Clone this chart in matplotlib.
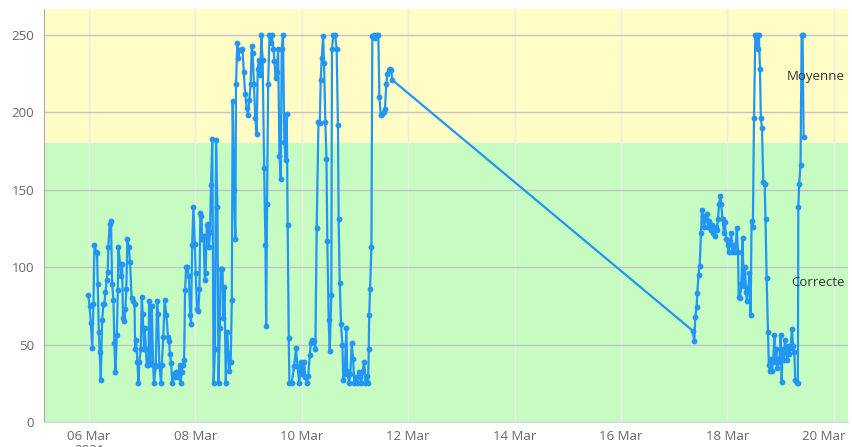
import matplotlib
matplotlib.use("Agg")
import matplotlib.pyplot as plt
import matplotlib.dates as mdates
import matplotlib.transforms as mtransforms
import numpy as np

plt.rcParams["font.family"] = ["Open Sans", "DejaVu Sans"]

# Readings: hours elapsed since 2021-03-06 00:00, and the measured level
start = "2021-03-06T00:00"

hours_a = [
    -0.3, 0.2, 0.8, 1.4, 2.0, 2.4, 3.2, 3.6, 3.9, 4.4,
    4.8, 5.3, 5.9, 6.5, 6.9, 7.4, 8.0, 8.4, 8.7, 9.3,
    9.9, 10.4, 11.0, 11.4, 11.9, 12.5, 13.0, 13.2, 14.0, 14.4,
    14.9, 15.3, 15.9, 16.4, 16.8, 17.3, 17.9, 18.5, 19.2, 19.7,
    20.5, 20.8, 21.2, 21.8, 22.3, 22.7, 23.3, 23.8, 24.2, 24.8,
    25.1, 25.6, 26.0, 26.8, 27.1, 27.7, 28.3, 28.9, 29.3, 30.1,
    30.7, 31.1, 31.7, 32.5, 32.8, 33.5, 34.1, 34.9, 35.6, 36.1,
    36.5, 37.0, 37.6, 38.0, 38.6, 39.2, 39.8, 40.3, 40.9, 41.3,
    41.8, 42.3, 42.9, 43.3, 43.8, 44.4, 45.0, 45.6, 46.0, 46.5,
    47.1, 47.7, 48.1, 48.7, 49.3, 49.8, 50.2, 50.7, 51.1, 51.7,
    52.2, 52.6, 53.1, 53.5, 54.1, 54.6, 55.0, 55.6, 56.2, 56.8,
    57.3, 57.9, 58.4, 59.0, 59.4, 60.2, 60.6, 61.1, 61.7, 62.3,
    62.9, 63.3, 63.9, 64.4, 64.8, 65.4, 66.0, 66.3, 66.9, 67.4,
    67.8, 68.4, 69.2, 69.8, 70.4, 71.1, 71.7, 72.3, 72.9, 73.4,
    73.8, 74.4, 75.0, 75.6, 76.1, 76.7, 77.3, 77.7, 78.3, 79.0,
    79.6, 79.9, 80.3, 80.8, 81.4, 82.0, 82.4, 83.2, 83.6, 84.2,
    84.7, 85.3, 85.9, 86.5, 86.9, 87.5, 88.1, 88.7, 89.2, 89.6,
    90.1, 90.4,
]
level_a = [
    82, 75, 64, 48, 76, 114, 110, 109, 89, 58,
    45, 27, 66, 76, 76, 84, 92, 97, 113, 128,
    130, 89, 79, 51, 32, 56, 85, 113, 102, 94,
    102, 67, 65, 73, 86, 118, 113, 103, 80, 78,
    76, 47, 53, 39, 25, 39, 47, 81, 70, 47,
    61, 47, 37, 37, 78, 39, 75, 37, 25, 36,
    78, 70, 37, 25, 37, 55, 79, 69, 55, 52,
    44, 38, 25, 31, 29, 32, 32, 29, 37, 25,
    32, 37, 40, 85, 100, 100, 94, 69, 63, 114,
    139, 115, 96, 73, 72, 86, 135, 133, 118, 120,
    92, 96, 127, 128, 113, 123, 153, 183, 25, 47,
    182, 139, 25, 61, 99, 99, 67, 87, 25, 58,
    44, 33, 39, 79, 207, 150, 118, 218, 245, 235,
    240, 240, 241, 226, 212, 203, 198, 208, 218, 243,
    238, 218, 196, 186, 228, 234, 224, 250, 234, 164,
    114, 62, 141, 218, 250, 245, 250, 241, 233, 222,
    226, 241, 172, 157, 241, 250, 181, 169, 199, 127,
    54, 25,
]

hours_b = [
    91.4, 92.5, 93.4, 94.0, 94.9, 95.5, 96.2, 97.0, 97.6, 98.3,
    98.9, 99.6, 100.0, 100.7, 101.5, 102.1, 102.7, 103.5, 104.1, 104.5,
    105.0, 105.6, 106.0, 106.6, 107.1, 107.5, 108.1, 108.6, 109.3, 109.6,
    110.2, 111.0, 111.7, 112.3, 112.6, 113.1, 113.7, 114.3, 114.7, 115.3,
    116.1, 116.5, 117.3, 117.9, 118.5, 119.1, 119.7, 120.3, 121.0, 121.7,
    122.2, 122.8, 123.5, 124.1, 124.7, 125.3, 125.9, 126.2, 126.4, 126.8,
    127.4, 127.8, 128.4, 129.2, 129.8, 130.5, 131.0, 131.6, 132.2, 132.9,
    133.5, 134.1, 134.6, 135.2, 135.8, 136.4, 136.7,
]
level_b = [
    25, 36, 48, 36, 25, 39, 31, 39, 29, 25,
    30, 43, 51, 53, 52, 47, 125, 194, 193, 221,
    235, 249, 232, 194, 170, 117, 66, 46, 82, 241,
    250, 250, 241, 192, 131, 90, 63, 50, 27, 31,
    61, 33, 25, 31, 51, 41, 25, 29, 25, 32,
    29, 25, 33, 39, 25, 30, 25, 47, 69, 86,
    113, 249, 250, 248, 250, 250, 210, 198, 199, 200,
    202, 218, 225, 227, 228, 227, 221,
]

hours_c = [
    272.3, 273.1, 273.5, 274.1, 274.4, 275.0, 275.5, 276.1, 276.5, 277.1,
    277.4, 278.2, 278.6, 279.2, 279.8, 280.4, 281.0, 281.6, 282.2, 282.8,
    283.3, 283.7, 284.3, 284.8, 285.2, 285.8, 286.4, 286.9, 287.5, 288.1,
    288.6, 289.2, 289.8, 290.2, 291.0, 291.6, 292.2, 292.8, 293.1, 293.7,
    294.3, 294.9, 295.3, 295.9, 296.4, 296.8, 297.4, 297.9, 298.5, 298.9,
    299.5, 300.0, 300.6, 301.2, 301.6, 302.2, 302.7, 303.1, 303.6, 304.2,
    304.8, 305.2, 305.7, 306.3, 306.7, 307.2, 307.7, 308.1, 308.7, 309.2,
    309.6, 310.1, 310.5, 311.0, 311.4, 312.0, 312.5, 312.9, 313.5, 314.0,
    314.4, 315.0, 315.5, 315.9, 316.5, 317.1, 317.7, 318.2, 318.6, 319.2,
    319.8, 320.0, 320.4, 321.0, 321.5, 321.9, 322.4,
]
level_c = [
    59, 52, 68, 74, 83, 95, 101, 122, 137, 133,
    126, 131, 134, 126, 130, 124, 127, 122, 120, 126,
    124, 131, 141, 146, 141, 131, 122, 129, 118, 114,
    110, 117, 122, 110, 114, 110, 125, 110, 81, 80,
    89, 119, 88, 100, 84, 78, 86, 96, 69, 130,
    126, 196, 250, 250, 241, 250, 228, 196, 190, 155,
    154, 131, 93, 58, 37, 33, 41, 33, 41, 56,
    39, 47, 35, 41, 39, 56, 26, 47, 40, 53,
    47, 40, 49, 44, 48, 60, 49, 45, 27, 25,
    25, 139, 154, 166, 250, 250, 184,
]

# Quality bands (lower edge, upper edge, label)
band_edges = [0, 180, 266.7]
band_names = ["Correcte", "Moyenne"]
band_colors = ["#c6fbc1", "#fffcc6"]

y_ticks = [0, 50, 100, 150, 200, 250]
x_tick_dates = ["2021-03-06", "2021-03-08", "2021-03-10", "2021-03-12",
                "2021-03-14", "2021-03-16", "2021-03-18", "2021-03-20"]
x_tick_labels = ["06 Mar\n2021", "08 Mar", "10 Mar", "12 Mar",
                 "14 Mar", "16 Mar", "18 Mar", "20 Mar"]
x_limits = ["2021-03-05T03:40", "2021-03-20T06:25"]

hours = np.array(hours_a + hours_b + hours_c)
level = np.array(level_a + level_b + level_c)
times = np.datetime64(start) + np.round(hours * 60).astype("timedelta64[m]")
t_num = mdates.date2num(times)

fig = plt.figure(figsize=(8.53, 4.47), dpi=100)
ax = fig.add_axes([44 / 853, 25 / 447, 804 / 853, 413 / 447])

for lo, hi, col in zip(band_edges[:-1], band_edges[1:], band_colors):
    ax.axhspan(lo, hi, color=col, zorder=0.2, lw=0)

ax.set_ylim(band_edges[0], band_edges[-1])
ax.set_xlim(mdates.date2num(np.array(x_limits, dtype="datetime64[m]")))

ax.set_yticks(y_ticks)
ax.set_xticks(mdates.date2num(np.array(x_tick_dates, dtype="datetime64[D]")))
ax.set_xticklabels(x_tick_labels, linespacing=1.05)

ax.set_axisbelow(True)
ax.yaxis.grid(True, color="#c4c4c4", lw=1.0, zorder=0.5)
ax.xaxis.grid(True, color="#ececec", lw=1.0, zorder=0.5)

ax.tick_params(axis="y", length=0, pad=7, labelsize=9.5, labelcolor="#666666")
ax.tick_params(axis="x", length=0, pad=6, labelsize=9.5, labelcolor="#666666")
ax.set_yticks([0], minor=True)
ax.tick_params(axis="y", which="minor", length=6, color="#aaaaaa", width=1)

for side in ("top", "right"):
    ax.spines[side].set_visible(False)
ax.spines["left"].set_color("#aaaaaa")
ax.spines["bottom"].set_color("#d8d8d8")

# keep the last date label inside the figure
last = ax.get_xticklabels()[-1]
last.set_transform(last.get_transform()
                   + mtransforms.ScaledTranslation(-10 / 100, 0, fig.dpi_scale_trans))

ax.plot(t_num, level, color="#2196f3", lw=1.6, marker="o", ms=4.2,
        markeredgewidth=0, zorder=3, clip_on=False)

blend = mtransforms.blended_transform_factory(ax.transAxes, ax.transData)
for lo, hi, name in zip(band_edges[:-1], band_edges[1:], band_names):
    ax.text(0.9965, (lo + hi) / 2, name, transform=blend, ha="right",
            va="center", fontsize=9.5, color="#333333", zorder=4)

fig.savefig("out.png", dpi=100)
